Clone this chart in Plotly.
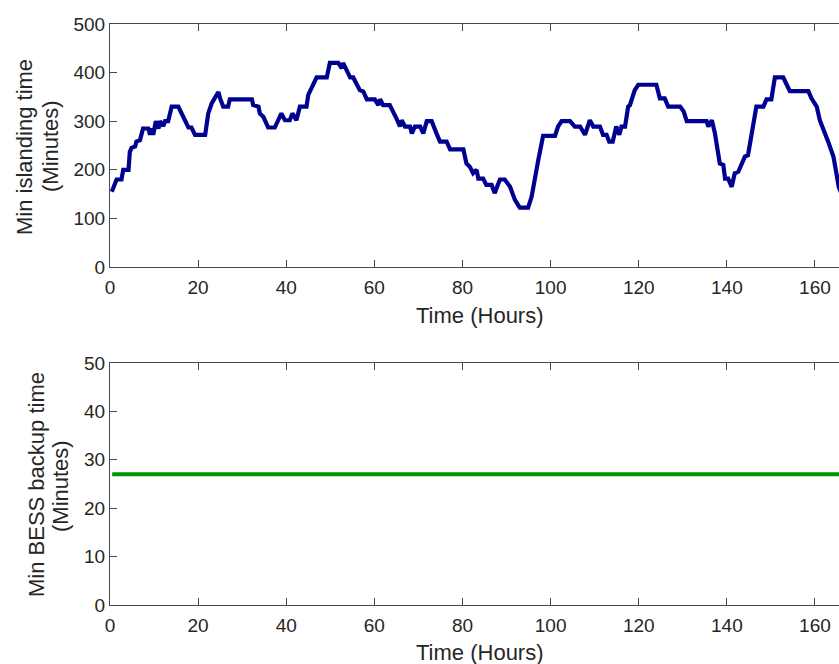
import plotly.graph_objects as go

# ---- data ----
island_hours = [0.4, 1.5, 2.6, 3.0, 4.2, 4.5, 4.9, 5.7, 6.0, 6.8, 7.5, 8.7, 9.1, 9.45, 9.8,
                10.4, 11.0, 11.35, 12.1, 12.5, 13.2, 14.0, 15.5, 16.3, 17.0, 17.8, 18.5, 19.3,
                21.6, 22.3, 23.1, 23.8, 24.6, 25.0, 25.7, 26.8, 27.2, 32.2, 32.5, 33.7, 34.0,
                34.8, 35.5, 35.9, 37.4, 38.2, 38.9, 39.7, 40.8, 41.4, 42.3, 43.1, 44.6, 45.0,
                46.1, 46.9, 49.2, 49.9, 51.8, 52.6, 52.9, 53.7, 54.5, 55.2, 56.0, 56.7, 57.5,
                58.3, 60.1, 60.9, 61.3, 62.0, 63.5, 64.3, 65.0, 65.8, 66.2, 66.95, 68.1, 68.5,
                69.2, 70.4, 71.1, 71.9, 73.0, 74.1, 74.9, 76.4, 77.2, 80.2, 80.9, 81.7, 82.4,
                83.2, 83.6, 84.7, 85.4, 86.6, 87.3, 88.5, 89.6, 90.8, 91.9, 93.0, 94.9, 95.7,
                96.4, 97.2, 98.3, 101.0, 101.7, 102.5, 104.4, 105.5, 106.7, 107.8, 108.9, 109.7,
                111.2, 111.9, 112.7, 113.3, 114.1, 114.9, 115.6, 116.1, 116.9, 117.6, 118.0,
                118.8, 119.1, 119.9, 124.0, 124.8, 125.9, 126.7, 129.4, 130.2, 130.9, 135.4,
                135.8, 136.6, 137.3, 138.4, 139.2, 139.6, 140.3, 141.1, 141.8, 142.6, 143.3,
                144.1, 144.8, 145.6, 146.7, 148.3, 149.0, 150.1, 150.9, 152.8, 154.3, 158.5,
                159.2, 160.4, 161.1, 163.0, 164.2, 165.4, 166.5, 168.0]
island_minutes = [155, 180, 180, 200, 200, 237, 245, 248, 258, 261, 285, 285, 272, 285, 272,
                  300, 285, 300, 290, 300, 300, 330, 330, 316, 302, 287, 287, 272,
                  272, 316, 337, 349, 360, 347, 330, 330, 345, 345, 333, 330, 316,
                  309, 296, 287, 287, 302, 316, 302, 302, 316, 302, 330, 330, 354,
                  375, 390, 390, 420, 420, 409, 420, 407, 390, 390, 375, 364, 361,
                  345, 345, 333, 345, 333, 333, 320, 306, 289, 302, 289, 289, 275,
                  289, 289, 275, 300, 300, 275, 258, 258, 242, 242, 213, 206, 193,
                  200, 182, 182, 169, 169, 152, 180, 180, 165, 138, 122, 122, 145,
                  186, 220, 270, 270, 289, 300, 300, 289, 289, 272, 302, 289,
                  289, 272, 272, 258, 258, 289, 272, 289, 289, 330, 333,
                  361, 364, 375, 375, 347, 347, 330, 330, 320, 300, 300,
                  289, 302, 275, 213, 210, 182, 182, 165, 193, 196, 213,
                  227, 230, 275, 330, 330, 345, 345, 390, 390, 362, 362,
                  347, 330, 302, 258, 227, 165, 140, 130]

bess_hours = [0.5, 168]
bess_minutes = [27, 27]

x_ticks = [0, 20, 40, 60, 80, 100, 120, 140, 160]
top_y_ticks = [0, 100, 200, 300, 400, 500]
bottom_y_ticks = [0, 10, 20, 30, 40, 50]

# ---- figure ----
W, H = 839, 664
L = 110
FONT = "Liberation Sans, Arial, sans-serif"
AX = "#4a4a4a"
TXT = "#262626"

fig = go.Figure()
fig.add_trace(go.Scatter(x=island_hours, y=island_minutes, mode="lines",
                         line=dict(color="rgb(0,0,145)", width=4.2),
                         xaxis="x", yaxis="y", showlegend=False))
fig.add_trace(go.Scatter(x=bess_hours, y=bess_minutes, mode="lines",
                         line=dict(color="rgb(0,150,0)", width=4),
                         xaxis="x2", yaxis="y2", showlegend=False))

xrange = [0, (W - L) / 4.406]

def xax(anchor):
    return dict(range=xrange, tickvals=x_ticks, ticks="inside", ticklen=7,
                tickcolor=AX, showline=True, linecolor=AX, linewidth=1,
                mirror="ticks", showgrid=False, zeroline=False, anchor=anchor,
                ticklabelstandoff=3,
                tickfont=dict(family=FONT, size=19, color=TXT), automargin=False)

def yax(rng, vals, domain, anchor):
    return dict(range=rng, tickvals=vals, ticks="inside", ticklen=7,
                tickcolor=AX, showline=True, linecolor=AX, linewidth=1,
                mirror=False, showgrid=False, zeroline=False, domain=domain,
                anchor=anchor, tickfont=dict(family=FONT, size=19, color=TXT),
                automargin=False)

top_dom = [1 - 267 / H, 1 - 24 / H]
bot_dom = [1 - 605 / H, 1 - 363 / H]

fig.update_layout(
    width=W, height=H,
    margin=dict(l=L, r=0, t=0, b=0),
    paper_bgcolor="white", plot_bgcolor="white",
    xaxis=xax("y"),
    yaxis=yax([0, 500], top_y_ticks, top_dom, "x"),
    xaxis2=xax("y2"),
    yaxis2=yax([0, 50], bottom_y_ticks, bot_dom, "x2"),
)

pw = W - L
def px(xp):
    return (xp - L) / pw

def py(yp):
    return 1 - yp / H

ann = [
    dict(text="Time (Hours)", x=px(480), y=py(315)),
    dict(text="Time (Hours)", x=px(480), y=py(652)),
    dict(text="Min islanding time", x=px(25), y=py(147), textangle=-90),
    dict(text="(Minutes)", x=px(51), y=py(146), textangle=-90),
    dict(text="Min BESS backup time", x=px(36), y=py(485), textangle=-90),
    dict(text="(Minutes)", x=px(60), y=py(486), textangle=-90),
]
for a in ann:
    fig.add_annotation(xref="paper", yref="paper", xanchor="center", yanchor="middle",
                       showarrow=False, font=dict(family=FONT, size=22, color=TXT), **a)

fig.write_html("out.html",
               config={"displayModeBar": False},
               post_script="document.body.style.margin='0';"
                           "document.body.style.overflow='hidden';")
